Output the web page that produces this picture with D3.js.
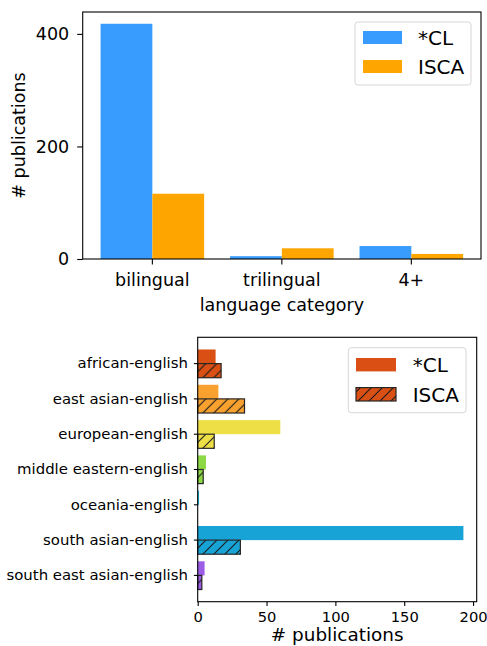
<!DOCTYPE html>
<html>
<head>
<meta charset="utf-8">
<script src="https://cdn.jsdelivr.net/npm/d3@7"></script>
<style>
  html, body { margin: 0; padding: 0; background: #fff; }
  svg { display: block; font-family: "DejaVu Sans", sans-serif; }
</style>
</head>
<body>
<svg id="chart" width="487" height="646"></svg>
<script>
// Publications per language category
const langCategories = ["bilingual", "trilingual", "4+"];
const langCL = [418, 5, 23];
const langISCA = [116, 19, 9];
const venues = ["*CL", "ISCA"];
const venueColors = ["#389cff", "#ffa500"];
const langTicks = [0, 200, 400];

// Publications per language pair
const pairCategories = [
  "african-english",
  "east asian-english",
  "european-english",
  "middle eastern-english",
  "oceania-english",
  "south asian-english",
  "south east asian-english"
];
const pairCL = [13, 15, 60, 6, 1, 193, 5];
const pairISCA = [17, 34, 12, 4, 0, 31, 3];
const pairColors = ["#d94f14", "#f9a12e", "#efdf46", "#8dd845", "#1fb3d4", "#17a3d6", "#9b5de5"];
const pairTicks = [0, 50, 100, 150, 200];

const FONT = "DejaVu Sans, sans-serif";
const svg = d3.select("#chart");
const defs = svg.append("defs");

// diagonal hatch overlay (transparent background)
const hatch = defs.append("pattern")
  .attr("id", "hatch")
  .attr("patternUnits", "userSpaceOnUse")
  .attr("width", 11).attr("height", 11);
hatch.append("path")
  .attr("d", "M0,11 L11,0 M-3,3 L3,-3 M8,14 L14,8")
  .attr("stroke", "#1a1a1a").attr("stroke-width", 1.1).attr("fill", "none");

function styleAxis(g, size) {
  g.attr("font-family", FONT).attr("font-size", size);
  g.select(".domain").remove();
  g.selectAll(".tick line").attr("stroke", "#000").attr("stroke-width", 1.1);
  g.selectAll(".tick text").attr("fill", "#000");
}

// ---------- top chart: grouped vertical bars ----------
{
  const left = 82.7, right = 481, top = 12, bottom = 259;
  const x = d3.scaleBand().domain(langCategories).range([left, right])
    .paddingInner(0.2).paddingOuter(0.138);
  const xs = d3.scaleBand().domain(venues).range([0, x.bandwidth()]);
  const y = d3.scaleLinear().domain([0, d3.max(langCL) * 1.05]).range([bottom, top]);

  const rows = langCategories.map((c, i) => ({ c, vals: [langCL[i], langISCA[i]] }));
  const groups = svg.append("g").selectAll("g").data(rows).join("g")
    .attr("transform", d => `translate(${x(d.c)},0)`);
  groups.selectAll("rect").data(d => d.vals.map((v, k) => ({ v, k })))
    .join("rect")
    .attr("x", d => xs(venues[d.k]))
    .attr("width", xs.bandwidth())
    .attr("y", d => y(d.v))
    .attr("height", d => y(0) - y(d.v))
    .attr("fill", d => venueColors[d.k]);

  const gx = svg.append("g").attr("transform", `translate(0,${bottom})`)
    .call(d3.axisBottom(x).tickSize(5.5).tickSizeOuter(0));
  styleAxis(gx, 17.5);
  gx.selectAll(".tick text").attr("y", 27).attr("dy", null);

  const gy = svg.append("g").attr("transform", `translate(${left},0)`)
    .call(d3.axisLeft(y).tickValues(langTicks).tickSize(5.5).tickPadding(8));
  styleAxis(gy, 17.5);

  svg.append("rect").attr("x", left).attr("y", top)
    .attr("width", right - left).attr("height", bottom - top)
    .attr("fill", "none").attr("stroke", "#000").attr("stroke-width", 1.1);

  svg.append("text").attr("x", (left + right) / 2).attr("y", 311)
    .attr("text-anchor", "middle").attr("font-size", 17.5).text("language category");
  svg.append("text")
    .attr("transform", `translate(25,${(top + bottom) / 2}) rotate(-90)`)
    .attr("text-anchor", "middle").attr("font-size", 17.5).text("# publications");

  // legend
  const lg = svg.append("g");
  lg.append("rect").attr("x", 355).attr("y", 22).attr("width", 116).attr("height", 63)
    .attr("rx", 3).attr("fill", "#fff").attr("fill-opacity", 0.8)
    .attr("stroke", "#d6d6d6").attr("stroke-width", 1);
  venues.forEach((v, k) => {
    const cy = 37.5 + k * 29;
    lg.append("rect").attr("x", 363).attr("y", cy - 6.5).attr("width", 39).attr("height", 13)
      .attr("fill", venueColors[k]);
    lg.append("text").attr("x", 418).attr("y", cy + 7.3).attr("font-size", 20).text(v);
  });
}

// ---------- bottom chart: horizontal bars, hatched ISCA ----------
{
  const left = 197.7, right = 476.7, top = 337.3, bottom = 601.7;
  const y = d3.scaleBand().domain(pairCategories).range([top, bottom])
    .paddingInner(0.2).paddingOuter(0.345);
  const ys = d3.scaleBand().domain(venues).range([0, y.bandwidth()]);
  const x = d3.scaleLinear().domain([0, d3.max(pairCL) * 1.05]).range([left, right]);

  const rows = pairCategories.map((c, i) => ({ c, i, vals: [pairCL[i], pairISCA[i]] }));
  const groups = svg.append("g").selectAll("g").data(rows).join("g")
    .attr("transform", d => `translate(0,${y(d.c)})`);

  // *CL bars
  groups.append("rect")
    .attr("x", x(0)).attr("y", ys("*CL"))
    .attr("width", d => x(d.vals[0]) - x(0)).attr("height", ys.bandwidth())
    .attr("fill", d => pairColors[d.i]);

  // ISCA bars: colour fill, hatch overlay, dark outline
  const isca = groups.filter(d => d.vals[1] > 0);
  isca.append("rect")
    .attr("x", x(0)).attr("y", ys("ISCA"))
    .attr("width", d => x(d.vals[1]) - x(0)).attr("height", ys.bandwidth())
    .attr("fill", d => pairColors[d.i]);
  isca.append("rect")
    .attr("x", x(0)).attr("y", ys("ISCA"))
    .attr("width", d => x(d.vals[1]) - x(0)).attr("height", ys.bandwidth())
    .attr("fill", "url(#hatch)").attr("stroke", "#262626").attr("stroke-width", 1.2);

  const gx = svg.append("g").attr("transform", `translate(0,${bottom})`)
    .call(d3.axisBottom(x).tickValues(pairTicks).tickSize(4.3).tickSizeOuter(0));
  styleAxis(gx, 14.7);
  gx.selectAll(".tick text").attr("y", 20).attr("dy", null);

  const gy = svg.append("g").attr("transform", `translate(${left},0)`)
    .call(d3.axisLeft(y).tickSize(3.8).tickPadding(6));
  styleAxis(gy, 14.9);

  svg.append("rect").attr("x", left).attr("y", top)
    .attr("width", right - left).attr("height", bottom - top)
    .attr("fill", "none").attr("stroke", "#000").attr("stroke-width", 1.1);

  svg.append("text").attr("x", (left + right) / 2).attr("y", 641)
    .attr("text-anchor", "middle").attr("font-size", 18.4).text("# publications");

  // legend
  const lg = svg.append("g");
  lg.append("rect").attr("x", 348.3).attr("y", 347.7).attr("width", 117.7).attr("height", 65)
    .attr("rx", 3).attr("fill", "#fff").attr("fill-opacity", 0.8)
    .attr("stroke", "#d6d6d6").attr("stroke-width", 1);
  venues.forEach((v, k) => {
    const cy = 364.7 + k * 29.6;
    lg.append("rect").attr("x", 356).attr("y", cy - 6.7).attr("width", 40).attr("height", 13.4)
      .attr("fill", pairColors[0]);
    if (k === 1) {
      lg.append("rect").attr("x", 356).attr("y", cy - 6.7).attr("width", 40).attr("height", 13.4)
        .attr("fill", "url(#hatch)").attr("stroke", "#262626").attr("stroke-width", 1.2);
    }
    lg.append("text").attr("x", 412.7).attr("y", cy + 7.3).attr("font-size", 20).text(v);
  });
}
</script>
</body>
</html>
